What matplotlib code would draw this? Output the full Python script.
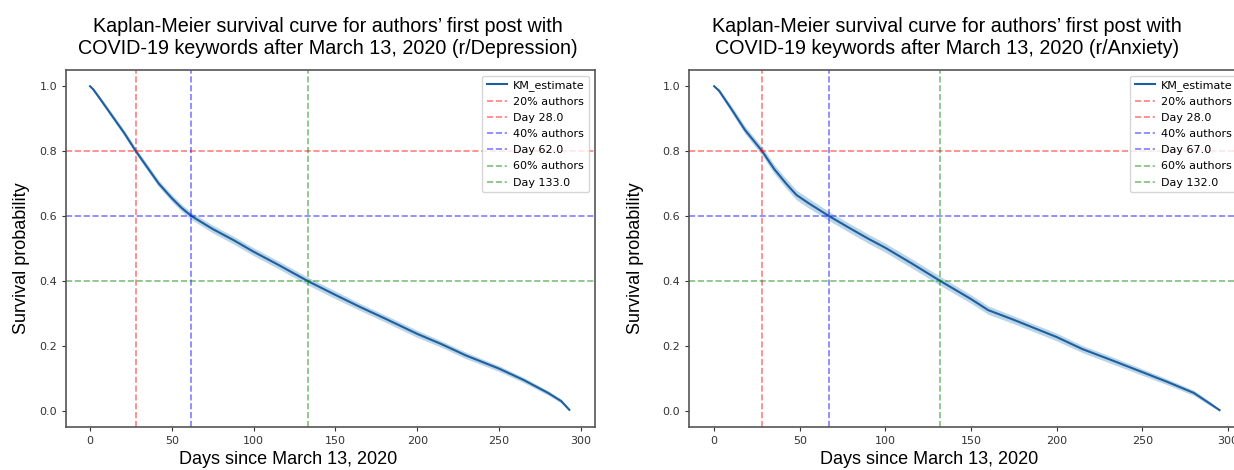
import numpy as np
import matplotlib.pyplot as plt

# KM estimates (days, survival probability)
dep_days = [0, 2, 7, 14, 21, 28, 35, 42, 50, 56, 62, 75, 88, 100, 115, 133, 150, 165, 180, 200, 215, 230, 250, 265, 280, 288, 293]
dep_surv = [1.0, 0.99, 0.955, 0.905, 0.855, 0.80, 0.75, 0.70, 0.655, 0.625, 0.60, 0.56, 0.525, 0.49, 0.45, 0.40, 0.357, 0.32, 0.285, 0.237, 0.205, 0.17, 0.13, 0.095, 0.055, 0.03, 0.003]
dep_lo = [1.0, 0.985, 0.948, 0.897, 0.846, 0.791, 0.740, 0.690, 0.644, 0.614, 0.589, 0.548, 0.513, 0.478, 0.438, 0.388, 0.345, 0.309, 0.274, 0.226, 0.195, 0.160, 0.121, 0.087, 0.048, 0.024, 0.0]
dep_hi = [1.0, 0.995, 0.962, 0.913, 0.864, 0.809, 0.760, 0.710, 0.666, 0.636, 0.611, 0.572, 0.537, 0.502, 0.462, 0.412, 0.369, 0.331, 0.296, 0.248, 0.215, 0.180, 0.139, 0.103, 0.062, 0.036, 0.006]

anx_days = [0, 2, 3, 10, 18, 28, 35, 42, 48, 55, 67, 80, 90, 100, 115, 132, 150, 160, 175, 200, 215, 230, 250, 265, 280, 290, 295]
anx_surv = [1.0, 0.99, 0.985, 0.93, 0.865, 0.80, 0.745, 0.70, 0.665, 0.64, 0.60, 0.56, 0.53, 0.502, 0.455, 0.40, 0.344, 0.31, 0.28, 0.227, 0.19, 0.16, 0.119, 0.088, 0.055, 0.02, 0.002]
anx_lo = [1.0, 0.985, 0.978, 0.920, 0.853, 0.787, 0.731, 0.685, 0.650, 0.625, 0.586, 0.546, 0.516, 0.488, 0.441, 0.386, 0.331, 0.297, 0.268, 0.215, 0.179, 0.149, 0.109, 0.079, 0.047, 0.014, 0.0]
anx_hi = [1.0, 0.995, 0.992, 0.940, 0.877, 0.813, 0.759, 0.715, 0.680, 0.655, 0.614, 0.574, 0.544, 0.516, 0.469, 0.414, 0.357, 0.323, 0.292, 0.239, 0.201, 0.171, 0.129, 0.097, 0.063, 0.026, 0.004]

levels = [0.8, 0.6, 0.4]
level_names = ["20% authors", "40% authors", "60% authors"]
dep_cut_days = [28.0, 62.0, 133.0]
anx_cut_days = [28.0, 67.0, 132.0]
line_colors = ["red", "blue", "green"]

titles = [
    "Kaplan-Meier survival curve for authors\u2019 first post with\nCOVID-19 keywords after March 13, 2020 (r/Depression)",
    "Kaplan-Meier survival curve for authors\u2019 first post with\nCOVID-19 keywords after March 13, 2020 (r/Anxiety)",
]

fig = plt.figure(figsize=(12.34, 4.70), dpi=100)
ax1 = fig.add_axes([66 / 1234, 43 / 470, 529 / 1234, 357 / 470])
ax2 = fig.add_axes([689 / 1234, 43 / 470, 554 / 1234, 357 / 470])

panels = [
    (ax1, dep_days, dep_surv, dep_lo, dep_hi, dep_cut_days),
    (ax2, anx_days, anx_surv, anx_lo, anx_hi, anx_cut_days),
]

for ax, d, s, lo, hi, cuts in panels:
    ax.fill_between(d, lo, hi, color="#1f77b4", alpha=0.3, linewidth=0)
    ax.plot(d, s, color="#1f5f9f", linewidth=1.5, label="KM_estimate")
    for lvl, name, day, c in zip(levels, level_names, cuts, line_colors):
        ax.axhline(lvl, color=c, linestyle="--", alpha=0.5, linewidth=1.2, label=name)
        ax.axvline(day, color=c, linestyle="--", alpha=0.5, linewidth=1.2, label=f"Day {day}")
    ax.set_xlim(-14.7, 308.7)
    ax.set_ylim(-0.05, 1.05)
    ax.set_xticks([0, 50, 100, 150, 200, 250, 300])
    ax.set_yticks([0.0, 0.2, 0.4, 0.6, 0.8, 1.0])
    ax.tick_params(labelsize=8, colors="#333333", length=3)
    for sp in ax.spines.values():
        sp.set_color("#555555")
        sp.set_linewidth(1.2)
    ax.legend(loc="upper right", fontsize=8, framealpha=0.8, handlelength=1.8,
              borderpad=0.4, labelspacing=0.55, handletextpad=0.6)

arial = "Liberation Sans"
fig.text(328 / 1234, 1 - 38 / 470, titles[0], ha="center", va="center",
         fontsize=14.2, family=arial, linespacing=1.2)
fig.text(947 / 1234, 1 - 38 / 470, titles[1], ha="center", va="center",
         fontsize=14.2, family=arial, linespacing=1.2)
fig.text(288 / 1234, 1 - 459 / 470, "Days since March 13, 2020", ha="center",
         va="center", fontsize=13, family=arial)
fig.text(929 / 1234, 1 - 459 / 470, "Days since March 13, 2020", ha="center",
         va="center", fontsize=13, family=arial)
fig.text(22 / 1234, 1 - 258 / 470, "Survival probability", ha="center",
         va="center", rotation=90, fontsize=13, family=arial)
fig.text(636 / 1234, 1 - 258 / 470, "Survival probability", ha="center",
         va="center", rotation=90, fontsize=13, family=arial)

fig.savefig("out.png", dpi=100)
